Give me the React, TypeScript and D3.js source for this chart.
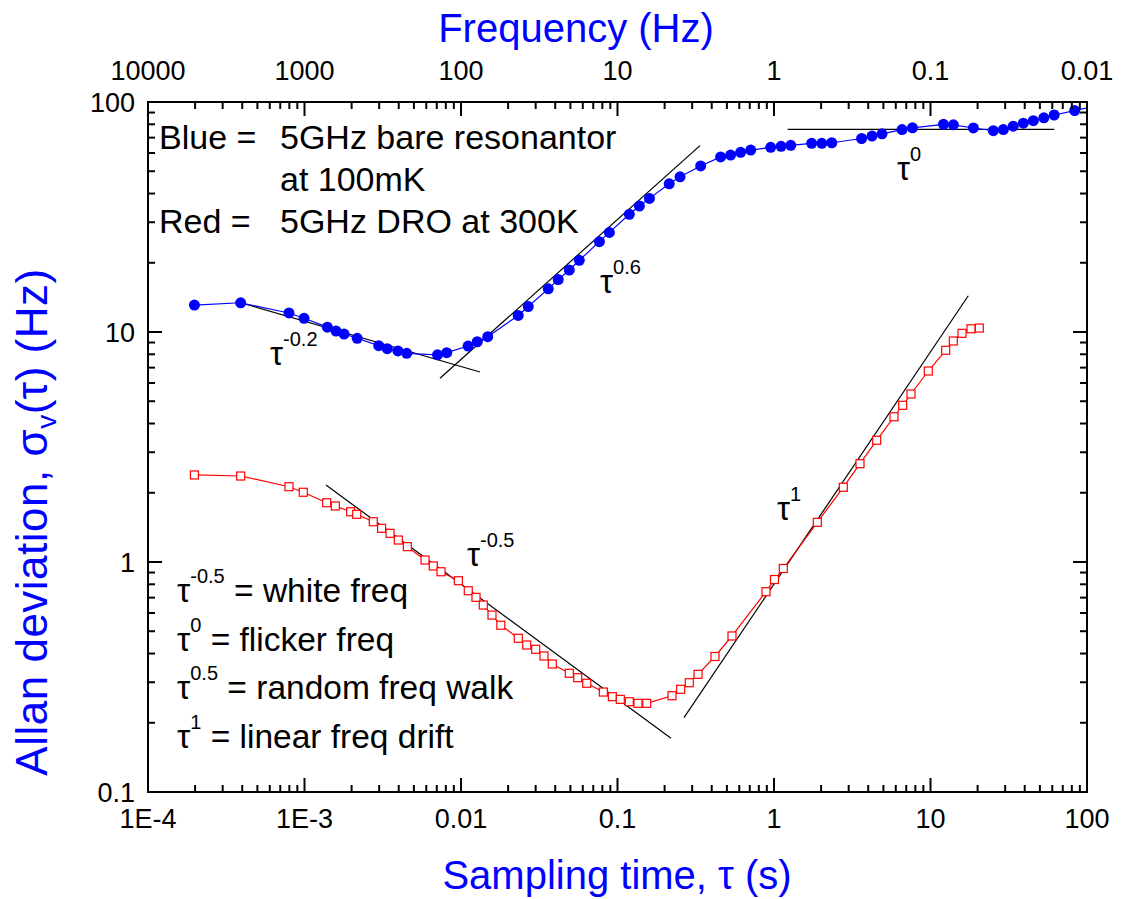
import React from 'react';
import * as d3 from 'd3';

// ---------- data ----------
const blueTau = [1.98e-4, 3.91e-4, 7.96e-4, 9.93e-4, 1.40e-3, 1.59e-3, 1.79e-3, 2.17e-3, 2.98e-3, 3.38e-3, 3.95e-3, 4.50e-3,
  7.08e-3, 8.11e-3, 0.0111, 0.0127, 0.01482, 0.0232, 0.0269, 0.0361, 0.0418, 0.0492, 0.0570, 0.0766, 0.0887, 0.119,
  0.138, 0.160, 0.214, 0.251, 0.340, 0.456, 0.528, 0.612, 0.710, 0.953, 1.11, 1.28, 1.74, 2.02, 2.34, 3.63, 4.23, 4.90,
  6.58, 7.67, 12.1, 14.0, 18.8, 25.2, 29.2, 33.8, 39.2, 45.4, 53.0, 61.7, 83.4, 112];
const blueSigma = [13.1, 13.4, 12.1, 11.47, 10.5, 10.1, 9.80, 9.39, 8.72, 8.46, 8.27, 8.08,
  7.96, 8.13, 8.69, 9.07, 9.54, 11.8, 12.9, 15.4, 16.9, 18.6, 20.5, 24.7, 27.1, 32.5,
  35.3, 38.1, 44.1, 47.3, 52.7, 57.7, 58.8, 60.4, 61.8, 63.5, 64.2, 64.8, 66.1, 66.1, 66.5, 69.4, 71.1, 72.7,
  75.9, 77.2, 80.0, 79.6, 77.1, 75.0, 75.9, 78.5, 80.9, 82.9, 85.4, 87.8, 91.8, 96.0];

const redTau = [1.98e-4, 3.91e-4, 7.96e-4, 9.82e-4, 1.387e-3, 1.574e-3, 1.973e-3, 2.156e-3, 2.75e-3, 3.11e-3, 3.52e-3,
  3.976e-3, 4.54e-3, 5.89e-3, 6.65e-3, 7.45e-3, 9.62e-3, 0.01113, 0.01247, 0.01388, 0.01578, 0.01796, 0.02323, 0.0263,
  0.030, 0.0339, 0.0383, 0.0492, 0.0557, 0.0636, 0.0812, 0.0927, 0.1042, 0.1189, 0.1352, 0.1537, 0.2229, 0.2533,
  0.2876, 0.327, 0.4198, 0.539, 0.889, 1.007, 1.147, 1.891, 2.772, 3.543, 4.531, 5.846, 6.643, 7.506, 9.68, 12.51,
  13.99, 15.9, 18.15, 20.5];
const redSigma = [2.39, 2.365, 2.125, 2.01, 1.81, 1.752, 1.654, 1.612, 1.497, 1.401, 1.333,
  1.246, 1.166, 1.020, 0.961, 0.907, 0.829, 0.750, 0.702, 0.650, 0.588, 0.531, 0.466, 0.4356,
  0.4173, 0.3903, 0.3601, 0.3282, 0.314, 0.297, 0.272, 0.2596, 0.2529, 0.2469, 0.243, 0.243, 0.2622, 0.2796,
  0.2986, 0.3249, 0.3883, 0.4769, 0.743, 0.839, 0.937, 1.488, 2.113, 2.676, 3.382, 4.28, 4.80, 5.376, 6.767, 8.325,
  9.14, 9.87, 10.33, 10.4];

// power-law guide lines: start/end tau and sigma
const fitExponents = ['-0.2', '0.6', '0', '-0.5', '1'];
const fitTauStart = [3.91e-4, 7.34e-3, 1.223, 1.372e-3, 0.266];
const fitTauEnd = [0.01322, 0.3366, 61.8, 0.2197, 17.44];
const fitSigmaStart = [13.4, 6.29, 76.1, 2.161, 0.2104];
const fitSigmaEnd = [6.70, 64.6, 76.1, 0.1713, 14.38];
// label anchor (data coords) for each guide
const fitLabelTau = [6.02e-4, 0.0773, 6.11, 0.01092, 1.045];
const fitLabelSigma = [7.19, 14.78, 45.8, 0.961, 1.523];

const xTickValues = [1e-4, 1e-3, 0.01, 0.1, 1, 10, 100];
const xTickLabels = ['1E-4', '1E-3', '0.01', '0.1', '1', '10', '100'];
const yTickValues = [0.1, 1, 10, 100];
const yTickLabels = ['0.1', '1', '10', '100'];
const freqTickValues = [10000, 1000, 100, 10, 1, 0.1, 0.01];
const freqTickLabels = ['10000', '1000', '100', '10', '1', '0.1', '0.01'];

const legendExponents = ['-0.5', '0', '0.5', '1'];
const legendTexts = [' = white freq', ' = flicker freq', ' = random freq walk', ' = linear freq drift'];

// ---------- layout ----------
const W = 1128, H = 899;
const L = 148, R = 1087, T = 102, B = 792;
const FONT = "'Liberation Sans', Arial, Helvetica, sans-serif";
const BLUE = '#0000ff';
const RED = '#ff0000';

export default function App() {
  const x = d3.scaleLog().domain([1e-4, 100]).range([L, R]);
  const y = d3.scaleLog().domain([0.1, 100]).range([B, T]);

  const minorX: number[] = [];
  for (let e = -4; e < 2; e++) for (let k = 2; k <= 9; k++) minorX.push(k * Math.pow(10, e));
  const minorY: number[] = [];
  for (let e = -1; e < 2; e++) for (let k = 2; k <= 9; k++) minorY.push(k * Math.pow(10, e));

  const line = d3.line<[number, number]>().x(d => x(d[0])).y(d => y(d[1]));
  const bluePts: [number, number][] = blueTau.map((t, i) => [t, blueSigma[i]]);
  const redPts: [number, number][] = redTau.map((t, i) => [t, redSigma[i]]);

  const MAJ = 14, MIN = 7;

  return (
    <svg width={W} height={H} style={{ position: 'absolute', left: 0, top: 0, background: '#fff' }} fontFamily={FONT}>
      <defs>
        <clipPath id="plotclip"><rect x={L} y={T} width={R - L} height={B - T} /></clipPath>
      </defs>
      <rect x={0} y={0} width={W} height={H} fill="#fff" />

      {/* guide lines */}
      <g stroke="#000" strokeWidth={1.2}>
        {fitExponents.map((e, i) => (
          <line key={'f' + i} x1={x(fitTauStart[i])} y1={y(fitSigmaStart[i])} x2={x(fitTauEnd[i])} y2={y(fitSigmaEnd[i])} />
        ))}
      </g>

      {/* data */}
      <g clipPath="url(#plotclip)">
        <path d={line(bluePts) || ''} fill="none" stroke={BLUE} strokeWidth={1.2} />
        {bluePts.map((p, i) => (
          <circle key={'b' + i} cx={x(p[0])} cy={y(p[1])} r={5.5} fill={BLUE} />
        ))}
        <path d={line(redPts) || ''} fill="none" stroke={RED} strokeWidth={1.2} />
        {redPts.map((p, i) => (
          <rect key={'r' + i} x={x(p[0]) - 4} y={y(p[1]) - 4} width={8} height={8} fill="#fff" stroke={RED} strokeWidth={1.2} />
        ))}
      </g>

      {/* frame & ticks */}
      <g stroke="#000" strokeWidth={2}>
        {xTickValues.map((v, i) => (
          <g key={'xt' + i}>
            <line x1={x(v)} x2={x(v)} y1={B} y2={B - MAJ} />
            <line x1={x(v)} x2={x(v)} y1={T} y2={T + MAJ} />
          </g>
        ))}
        {minorX.map((v, i) => (
          <g key={'xm' + i}>
            <line x1={x(v)} x2={x(v)} y1={B} y2={B - MIN} />
            <line x1={x(v)} x2={x(v)} y1={T} y2={T + MIN} />
          </g>
        ))}
        {yTickValues.map((v, i) => (
          <g key={'yt' + i}>
            <line x1={L} x2={L + MAJ} y1={y(v)} y2={y(v)} />
            <line x1={R} x2={R - MAJ} y1={y(v)} y2={y(v)} />
          </g>
        ))}
        {minorY.map((v, i) => (
          <g key={'ym' + i}>
            <line x1={L} x2={L + MIN} y1={y(v)} y2={y(v)} />
            <line x1={R} x2={R - MIN} y1={y(v)} y2={y(v)} />
          </g>
        ))}
        <rect x={L} y={T} width={R - L} height={B - T} fill="none" />
      </g>

      {/* tick labels */}
      <g fontSize={27} fill="#000">
        {xTickValues.map((v, i) => (
          <text key={'xl' + i} x={x(v)} y={B + 36} textAnchor="middle">{xTickLabels[i]}</text>
        ))}
        {freqTickValues.map((f, i) => (
          <text key={'fl' + i} x={x(1 / f)} y={T - 22} textAnchor="middle">{freqTickLabels[i]}</text>
        ))}
        {yTickValues.map((v, i) => (
          <text key={'yl' + i} x={L - 13} y={y(v) + 10} textAnchor="end">{yTickLabels[i]}</text>
        ))}
      </g>

      {/* axis titles */}
      <text x={576} y={42} textAnchor="middle" fontSize={40} fill={BLUE}>Frequency (Hz)</text>
      <text x={617} y={889} textAnchor="middle" fontSize={40} fill={BLUE}>Sampling time, τ (s)</text>
      <text transform="translate(47,522) rotate(-90)" textAnchor="middle" fontSize={44} letterSpacing={0.5} fill={BLUE}>
        Allan deviation, σ<tspan fontSize={28} dy={9}>v</tspan><tspan dy={-9}>(τ) (Hz)</tspan>
      </text>

      {/* guide labels */}
      <g fill="#000">
        {fitExponents.map((e, i) => (
          <text key={'gl' + i} x={x(fitLabelTau[i])} y={y(fitLabelSigma[i])} fontSize={33}>
            τ<tspan fontSize={20} dy={-19}>{e}</tspan>
          </text>
        ))}
      </g>

      {/* top-left annotation */}
      <g fontSize={34} fill="#000">
        <text x={159} y={149}>Blue =</text>
        <text x={280} y={149}>5GHz bare resonantor</text>
        <text x={280} y={191}>at 100mK</text>
        <text x={159} y={233}>Red =</text>
        <text x={280} y={233}>5GHz DRO at 300K</text>
      </g>

      {/* bottom-left legend */}
      <g fontSize={33.5} fill="#000">
        {legendExponents.map((e, i) => (
          <text key={'lg' + i} x={177} y={602 + i * 48.5}>
            τ<tspan fontSize={20} dy={-19}>{e}</tspan><tspan dy={19}>{legendTexts[i]}</tspan>
          </text>
        ))}
      </g>
    </svg>
  );
}
